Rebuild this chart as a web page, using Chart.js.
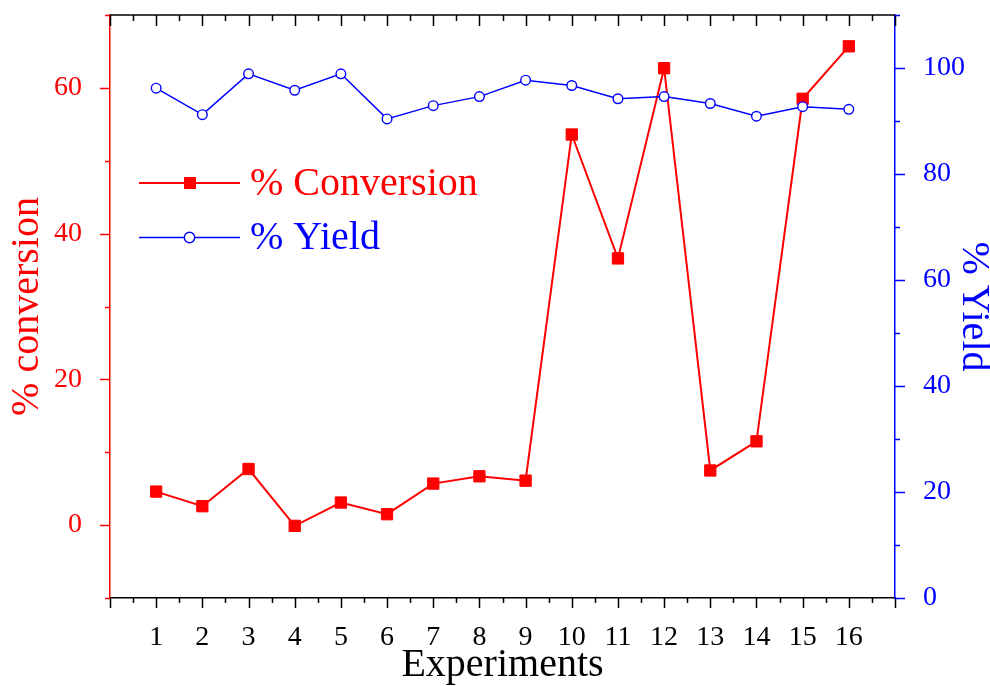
<!DOCTYPE html>
<html><head><meta charset="utf-8">
<script src="https://cdn.jsdelivr.net/npm/chart.js@4.4.0/dist/chart.umd.min.js"></script>
<style>html,body{margin:0;padding:0;background:#fff;} canvas{display:block;}</style>
</head><body>
<canvas id="c" width="990" height="686"></canvas>
<script>
// ---- data ----
const experiments = [1,2,3,4,5,6,7,8,9,10,11,12,13,14,15,16];
const conversion = [4.6,2.6,7.7,-0.1,3.1,1.5,5.7,6.7,6.1,53.6,36.6,62.7,7.5,11.5,58.5,65.7];
const yieldPct   = [96.2,91.2,98.9,95.8,98.9,90.4,92.9,94.6,97.7,96.7,94.2,94.6,93.3,90.9,92.7,92.2];
const leftTickLabels  = [0,20,40,60];
const rightTickLabels = [0,20,40,60,80,100];
const seriesNames = ['% Conversion','% Yield'];

const RED = '#ff0000', BLUE = '#0000ff', BLACK = '#000000';
const FONT = "'Liberation Serif', 'Times New Roman', serif";
Chart.defaults.font.family = FONT;

function resetPad(s){ s.paddingTop=0; s.paddingBottom=0; s.paddingLeft=0; s.paddingRight=0; }

const tickPlugin = {
  id: 'ticksAndLegend',
  afterDraw(chart){
    const ctx = chart.ctx, a = chart.chartArea;
    const x = chart.scales.x, yl = chart.scales.y, yr = chart.scales.y2;
    ctx.save();
    ctx.lineWidth = 1.5;
    // top border
    ctx.strokeStyle = BLACK;
    ctx.beginPath(); ctx.moveTo(a.left, a.top); ctx.lineTo(a.right, a.top); ctx.stroke();
    // x ticks (bottom outward, top inward)
    for (let v = x.min; v <= x.max + 1e-9; v += 0.5){
      const px = Math.round(x.getPixelForValue(v)) + 0.5;
      const major = Math.abs(v - Math.round(v)) < 1e-9;
      const len = major ? 10 : 5;
      ctx.beginPath();
      ctx.moveTo(px, a.bottom); ctx.lineTo(px, a.bottom + len);
      ctx.moveTo(px, a.top); ctx.lineTo(px, a.top + (major ? 11 : 6));
      ctx.stroke();
    }
    // left ticks
    ctx.strokeStyle = RED;
    for (let v = yl.min; v <= yl.max + 1e-9; v += 10){
      const py = Math.round(yl.getPixelForValue(v)) + 0.5;
      const len = (v % 20 === 0) ? 10 : 5;
      ctx.beginPath(); ctx.moveTo(a.left, py); ctx.lineTo(a.left - len, py); ctx.stroke();
    }
    // right ticks
    ctx.strokeStyle = BLUE;
    for (let v = yr.min; v <= yr.max + 1e-9; v += 10){
      const py = Math.round(yr.getPixelForValue(v)) + 0.5;
      const len = (v % 20 === 0) ? 10 : 5;
      ctx.beginPath(); ctx.moveTo(a.right, py); ctx.lineTo(a.right + len, py); ctx.stroke();
    }
    // legend
    const items = [
      {name: seriesNames[0], color: RED, y: 183, lw: 2, marker: 'rect'},
      {name: seriesNames[1], color: BLUE, y: 237.5, lw: 1.4, marker: 'circle'}
    ];
    ctx.font = '40px ' + FONT;
    ctx.textBaseline = 'middle';
    ctx.textAlign = 'left';
    items.forEach(it => {
      ctx.strokeStyle = it.color; ctx.lineWidth = it.lw;
      ctx.beginPath(); ctx.moveTo(139, it.y); ctx.lineTo(240, it.y); ctx.stroke();
      if (it.marker === 'rect'){
        ctx.fillStyle = it.color; ctx.fillRect(184, it.y - 6, 12, 12);
      } else {
        ctx.fillStyle = '#fff'; ctx.lineWidth = 1.4;
        ctx.beginPath(); ctx.arc(189.5, it.y, 5.2, 0, Math.PI*2); ctx.fill(); ctx.stroke();
      }
      ctx.fillStyle = it.color;
      ctx.fillText(it.name, 250, it.y + 1);
    });
    ctx.restore();
  }
};

new Chart(document.getElementById('c'), {
  type: 'line',
  data: {
    datasets: [
      {
        label: seriesNames[1],
        data: experiments.map((e,i)=>({x:e, y:yieldPct[i]})),
        yAxisID: 'y2',
        borderColor: BLUE, borderWidth: 1.5,
        pointStyle: 'circle', pointRadius: 4.8, pointBorderWidth: 1.4,
        pointBackgroundColor: '#ffffff', pointBorderColor: BLUE,
        order: 0, tension: 0
      },
      {
        label: seriesNames[0],
        data: experiments.map((e,i)=>({x:e, y:conversion[i]})),
        yAxisID: 'y',
        borderColor: RED, borderWidth: 2,
        pointStyle: 'rect', pointRadius: 8, pointBorderWidth: 1,
        pointBackgroundColor: RED, pointBorderColor: RED,
        order: 1, tension: 0
      }
    ]
  },
  options: {
    responsive: false,
    devicePixelRatio: 1,
    animation: false,
    layout: { padding: { top: 15, left: 0, right: 0, bottom: 0 } },
    plugins: { legend: { display: false }, tooltip: { enabled: false } },
    scales: {
      x: {
        type: 'linear', position: 'bottom', min: 0, max: 17,
        grid: { display: false },
        border: { display: true, color: BLACK, width: 1.5 },
        ticks: {
          stepSize: 1, autoSkip: false, maxRotation: 0, padding: 15,
          color: BLACK, font: { size: 28 },
          callback: v => experiments.includes(v) ? String(v) : ''
        },
        title: { display: true, text: 'Experiments', color: BLACK,
                 font: { size: 40, lineHeight: 1.05 }, padding: 0 },
        afterFit(s){ s.height = 88; resetPad(s); }
      },
      y: {
        type: 'linear', position: 'left', min: -10, max: 70,
        grid: { display: false },
        border: { display: true, color: RED, width: 1.5 },
        ticks: {
          stepSize: 10, autoSkip: false, padding: 20, color: RED, font: { size: 28 },
          callback: v => leftTickLabels.includes(v) ? String(v) : ''
        },
        title: { display: true, text: '% conversion', color: RED,
                 font: { size: 40, lineHeight: 1.2 }, padding: { top: 3, bottom: 0 } },
        afterFit(s){ s.width = 110; resetPad(s); }
      },
      y2: {
        type: 'linear', position: 'right', min: 0, max: 110,
        grid: { display: false },
        border: { display: true, color: BLUE, width: 1.5 },
        ticks: {
          stepSize: 10, autoSkip: false, padding: 20, color: BLUE, font: { size: 28 },
          callback: v => rightTickLabels.includes(v) ? String(v) : ''
        },
        title: { display: true, text: '% Yield', color: BLUE,
                 font: { size: 40, lineHeight: 0.85 }, padding: 0 },
        afterFit(s){ s.width = 95; resetPad(s); }
      }
    }
  },
  plugins: [tickPlugin]
});
</script>
</body></html>
